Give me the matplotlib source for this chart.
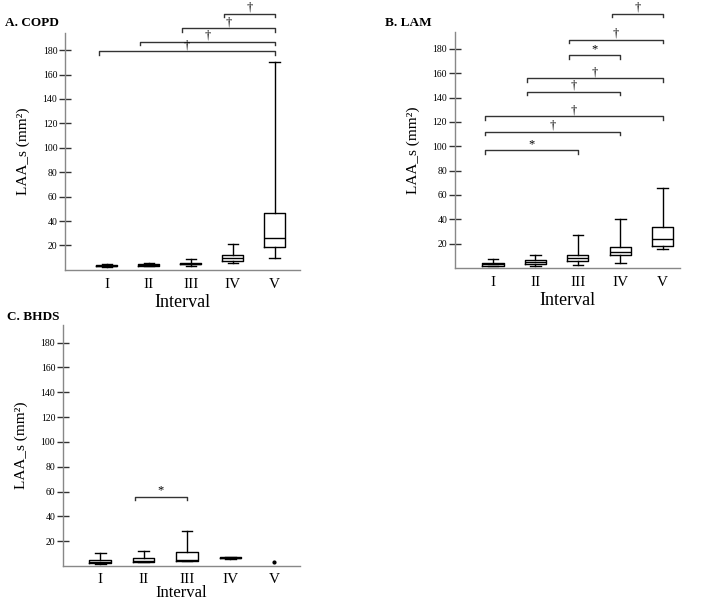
import matplotlib
matplotlib.use('Agg')
import matplotlib.pyplot as plt

plt.rcParams['font.family'] = ['Liberation Serif', 'DejaVu Serif']

intervals = ['I', 'II', 'III', 'IV', 'V']

# box stats per panel: whisker low, q1, median, q3, whisker high
copd_whislo = [2.5, 3.0, 3.5, 5.5, 9.5]
copd_q1 = [3.0, 3.5, 4.5, 7.5, 19.0]
copd_med = [3.5, 4.2, 5.0, 10.0, 26.0]
copd_q3 = [4.0, 5.0, 5.5, 12.0, 46.5]
copd_whishi = [4.5, 5.5, 9.0, 21.5, 170.5]

lam_whislo = [1.5, 2.0, 2.5, 4.5, 15.5]
lam_q1 = [2.0, 3.5, 5.5, 10.5, 18.0]
lam_med = [3.0, 5.0, 8.0, 13.5, 23.5]
lam_q3 = [4.0, 7.0, 10.5, 17.5, 33.5]
lam_whishi = [7.5, 10.5, 27.5, 40.5, 65.5]

# BHDS: interval V has a single value only
bhds_whislo = [2.0, 3.0, 4.0, 6.0]
bhds_q1 = [2.5, 3.5, 4.5, 6.2]
bhds_med = [3.5, 4.5, 5.0, 6.6]
bhds_q3 = [5.0, 6.5, 11.5, 7.0]
bhds_whishi = [10.5, 12.5, 28.0, 7.0]
bhds_single_v = 3.5

# significance brackets: (from, to, height, mark)
copd_sig = [(1, 5, 179, '†'), (2, 5, 187, '†'), (3, 5, 198, '†'), (4, 5, 210, '†')]
lam_sig = [(1, 3, 97, '*'), (1, 4, 112, '†'), (1, 5, 124.5, '†'), (2, 4, 145, '†'),
           (2, 5, 156, '†'), (3, 4, 175, '*'), (3, 5, 187.5, '†'), (4, 5, 209, '†')]
bhds_sig = [(2, 3, 56, '*')]


def make_stats(lo, q1, med, q3, hi):
    stats = []
    for i in range(len(lo)):
        stats.append({'whislo': lo[i], 'q1': q1[i], 'med': med[i], 'q3': q3[i],
                      'whishi': hi[i], 'fliers': []})
    return stats


def draw_panel(ax, stats, sig, xlim, tick_pad, xlab_pad, xlab_size=13):
    ax.bxp(stats, positions=range(1, len(stats) + 1), widths=0.5, showfliers=False,
           boxprops=dict(color='black', linewidth=1.0),
           medianprops=dict(color='black', linewidth=1.0),
           whiskerprops=dict(color='black', linewidth=1.0),
           capprops=dict(color='black', linewidth=1.0))
    ax.set_xlim(xlim)
    ax.set_ylim(0, 194)
    ax.set_yticks(range(20, 181, 20))
    ax.set_xticks(range(1, 6))
    ax.set_xticklabels(intervals, fontsize=11)
    ax.tick_params(axis='x', length=0, pad=tick_pad)
    ax.tick_params(axis='y', direction='inout', length=9, width=1, color='#333333',
                   labelsize=7, pad=1)
    for s in ['top', 'right']:
        ax.spines[s].set_visible(False)
    for s in ['left', 'bottom']:
        ax.spines[s].set_color('#888888')
        ax.spines[s].set_linewidth(1.0)
    ax.set_xlabel('Interval', fontsize=xlab_size, labelpad=xlab_pad)
    ax.set_ylabel('LAA_s (mm²)', fontsize=11, labelpad=9)
    for a, b, h, mark in sig:
        ax.plot([a - 0.2, a - 0.2, b, b], [h - 3, h, h, h - 3], color='#333333',
                linewidth=1.0, clip_on=False)
        ax.text((a - 0.2 + b) / 2, h, mark, ha='center', va='bottom', fontsize=9)


fig = plt.figure(figsize=(7.14, 6.01), dpi=100)

axA = fig.add_axes([0.091, 0.551, 0.329, 0.394])
draw_panel(axA, make_stats(copd_whislo, copd_q1, copd_med, copd_q3, copd_whishi),
           copd_sig, (0.0, 5.6), 6, 2)

axB = fig.add_axes([0.637, 0.554, 0.315, 0.393])
draw_panel(axB, make_stats(lam_whislo, lam_q1, lam_med, lam_q3, lam_whishi),
           lam_sig, (0.1, 5.4), 6, 2)

axC = fig.add_axes([0.088, 0.058, 0.332, 0.401])
draw_panel(axC, make_stats(bhds_whislo, bhds_q1, bhds_med, bhds_q3, bhds_whishi),
           bhds_sig, (0.14, 5.6), 5, -1, 12)
axC.plot([5], [bhds_single_v], marker='o', markersize=2, color='black', linestyle='none')

fig.text(5 / 714, 1 - 23 / 601, 'A. COPD', fontsize=9.5, fontweight='bold', va='center')
fig.text(385 / 714, 1 - 23 / 601, 'B. LAM', fontsize=9.5, fontweight='bold', va='center')
fig.text(7 / 714, 1 - 317 / 601, 'C. BHDS', fontsize=9.5, fontweight='bold', va='center')

fig.savefig('out.png', dpi=100)
